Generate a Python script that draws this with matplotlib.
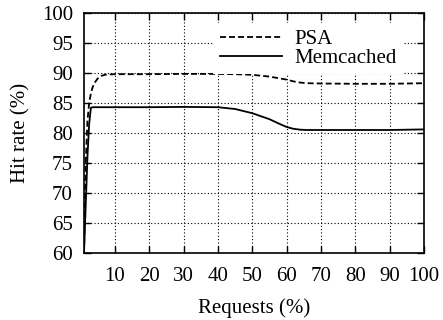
import matplotlib
matplotlib.use("Agg")
import matplotlib.pyplot as plt

# Data
req = [1, 1.5, 2, 2.5, 3, 3.5, 4, 5, 6, 7, 8, 10, 20, 30, 40, 45, 50, 55, 58, 60, 62, 64, 66, 70, 80, 90, 100]
psa = [60, 75, 82, 85, 86.6, 87.6, 88.3, 89.1, 89.5, 89.7, 89.75, 89.8, 89.8, 89.85, 89.85, 89.8, 89.7, 89.4, 89.1, 88.9, 88.6, 88.4, 88.3, 88.25, 88.2, 88.2, 88.3]
mem = [60, 68, 76, 81.5, 84.2, 84.3, 84.3, 84.3, 84.3, 84.3, 84.3, 84.3, 84.3, 84.35, 84.3, 84.0, 83.3, 82.3, 81.5, 81.0, 80.7, 80.55, 80.5, 80.5, 80.5, 80.5, 80.6]

xticks = [10, 20, 30, 40, 50, 60, 70, 80, 90, 100]
yticks = [60, 65, 70, 75, 80, 85, 90, 95, 100]

plt.rcParams['font.family'] = ['Liberation Serif', 'DejaVu Serif']
plt.rcParams['mathtext.fontset'] = 'stix'
FS = 15

fig = plt.figure(figsize=(4.43, 3.2), dpi=100)
ax = fig.add_axes([84/443, 67/320, 340/443, 240/320])

ax.plot(req, psa, color='black', linestyle=(0, (3.3, 1.7)), linewidth=1.3, label='PSA')
ax.plot(req, mem, color='black', linestyle='-', linewidth=1.3, label='Memcached')

ax.set_xlim(1, 100)
ax.set_ylim(60, 100)
ax.set_xticks(xticks)
ax.set_yticks(yticks)
ax.tick_params(direction='in', length=5, width=1, top=True, right=True, labelsize=FS, colors='black')
ax.tick_params(axis='x', pad=10)
ax.tick_params(axis='y', pad=8)
ax.grid(True, linestyle=(0, (1, 2)), color='black', linewidth=0.8)
for s in ax.spines.values():
    s.set_linewidth(1.2)

ax.set_xlabel('Requests (%)', fontsize=FS, labelpad=9)
ax.set_ylabel('Hit rate (%)', fontsize=FS, labelpad=8)

leg = ax.legend(loc='upper left', fontsize=FS, frameon=True, fancybox=False,
                facecolor='white', edgecolor='white', framealpha=1, handlelength=3.0,
                handletextpad=0.58, labelspacing=-0.05, borderpad=0.3,
                bbox_to_anchor=((203 - 84) / 340, 1.0))
leg.get_frame().set_linewidth(0)

fig.savefig('out.png', dpi=100)
